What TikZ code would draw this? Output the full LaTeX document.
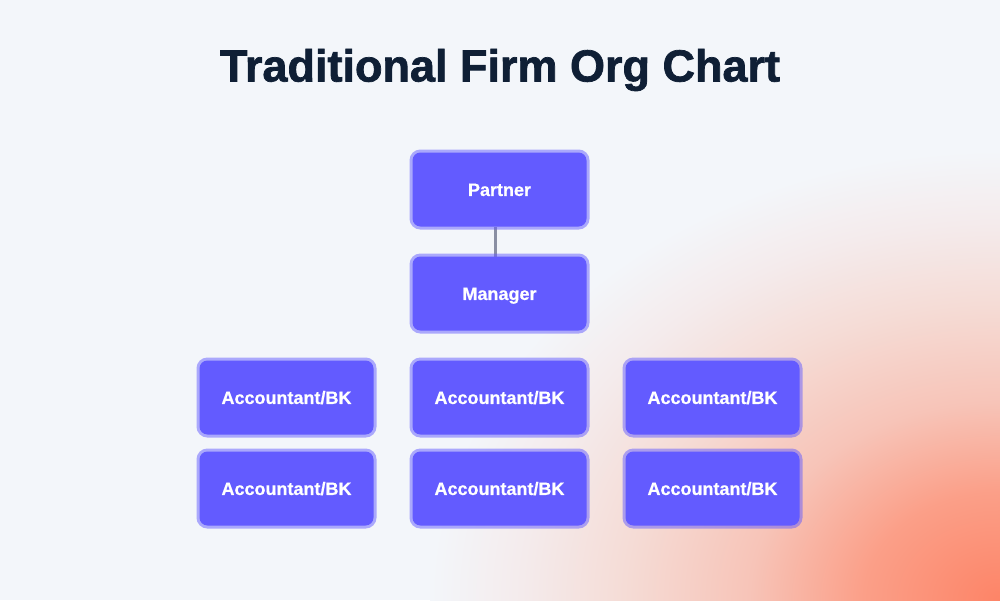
\documentclass[tikz,border=0pt]{standalone}
\usepackage{fontspec}
\setmainfont{Liberation Sans}
\newfontfamily\titlefont{Liberation Sans}[BoldFeatures={FakeBold=1.6}]
\newfontfamily\boxfont{Liberation Sans}[BoldFeatures={FakeBold=0.6}]
\usetikzlibrary{calc}
\definecolor{bgc}{HTML}{F3F6FA}
\definecolor{blurple}{HTML}{635BFF}
\definecolor{titlec}{HTML}{0F1F35}
\definecolor{linec}{HTML}{8A8FA3}
\definecolor{g0}{HTML}{FD8467}
\definecolor{g1}{HTML}{FB9F88}
\definecolor{g2}{HTML}{F7C4B8}
\definecolor{g3}{HTML}{F5DCD6}
\definecolor{g4}{HTML}{F4EBEC}
\pgfdeclareradialshading{glow}{\pgfpoint{0bp}{0bp}}{color(0bp)=(g0); color(6bp)=(g1); color(11bp)=(g2); color(16.5bp)=(g3); color(21bp)=(g4); color(25bp)=(bgc); color(50bp)=(bgc)}
\pgfdeclarelayer{back}
\pgfdeclarelayer{edges}
\pgfsetlayers{back,edges,main}
\tikzset{
  box/.style={rectangle, rounded corners=8pt, fill=blurple, minimum width=174pt, minimum height=74pt,
    preaction={draw=blurple, draw opacity=0.5, line width=6pt},
    text=white, font=\boxfont\bfseries\fontsize{18}{20}\selectfont, text height=12.9pt, text depth=0pt,
    inner sep=0pt, outer sep=0pt},
  conn/.style={draw=linec, line width=3pt},
  title/.style={text=titlec, font=\titlefont\bfseries\fontsize{45}{50}\selectfont, anchor=base, inner sep=0pt}
}
\begin{document}
\begin{tikzpicture}[x=1pt,y=-1pt]
\useasboundingbox (0,0) rectangle (1000,600);
\begin{pgfonlayer}{back}
  \fill[bgc] (0,0) rectangle (1000,600);
  \begin{scope}
    \clip (0,0) rectangle (1000,600);
    \shade[shading=glow] (1000,600) ellipse [x radius=570, y radius=450];
  \end{scope}
\end{pgfonlayer}
\node[title] (t) at (500,81.5) {Traditional Firm Org Chart};
\node[box] (partner) at (499.5,189.5) {Partner};
\node[box] (manager) at (499.5,293.5) {Manager};
\node[box] (a11) at (286.5,397.5) {Accountant/BK};
\node[box] (a12) at (499.5,397.5) {Accountant/BK};
\node[box] (a13) at (712.5,397.5) {Accountant/BK};
\node[box] (a21) at (286.5,488.5) {Accountant/BK};
\node[box] (a22) at (499.5,488.5) {Accountant/BK};
\node[box] (a23) at (712.5,488.5) {Accountant/BK};
\begin{pgfonlayer}{edges}
  \draw[conn] ([xshift=-4pt]partner.south) -- ([xshift=-4pt]manager.north);
\end{pgfonlayer}
\end{tikzpicture}
\end{document}
